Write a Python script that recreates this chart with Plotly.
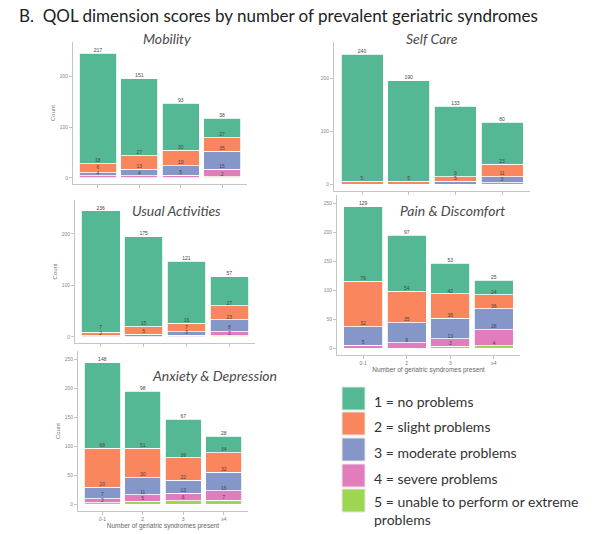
import plotly.graph_objects as go
import numpy as np

W, H = 615, 534

categories = ["0-1", "2", "3", "≥4"]
level_names = ["1 = no problems", "2 = slight problems", "3 = moderate problems",
               "4 = severe problems", "5 = unable to perform or extreme<br>problems"]
colors = ["#55B894", "#F9865C", "#8497C8", "#E27CBD", "#9DD651"]

# counts per level (1..5) for each category
mobility_1 = [217, 151, 93, 38]
mobility_2 = [18, 27, 30, 27]
mobility_3 = [6, 13, 19, 35]
mobility_4 = [4, 4, 5, 15]
mobility_5 = [0, 0, 0, 2]

selfcare_1 = [240, 190, 133, 80]
selfcare_2 = [5, 5, 9, 23]
selfcare_3 = [0, 0, 5, 11]
selfcare_4 = [0, 0, 0, 3]
selfcare_5 = [0, 0, 0, 0]

usual_1 = [236, 175, 121, 57]
usual_2 = [7, 15, 16, 27]
usual_3 = [2, 5, 7, 23]
usual_4 = [0, 0, 3, 8]
usual_5 = [0, 0, 0, 2]

pain_1 = [129, 97, 53, 25]
pain_2 = [79, 54, 42, 24]
pain_3 = [32, 35, 36, 36]
pain_4 = [5, 9, 13, 28]
pain_5 = [0, 0, 3, 4]

anxiety_1 = [148, 98, 67, 28]
anxiety_2 = [68, 51, 39, 34]
anxiety_3 = [20, 30, 22, 32]
anxiety_4 = [7, 11, 13, 16]
anxiety_5 = [2, 5, 6, 7]

panel_titles = ["Mobility", "Self Care", "Usual Activities", "Pain & Discomfort", "Anxiety & Depression"]
panel_data = [
    [mobility_1, mobility_2, mobility_3, mobility_4, mobility_5],
    [selfcare_1, selfcare_2, selfcare_3, selfcare_4, selfcare_5],
    [usual_1, usual_2, usual_3, usual_4, usual_5],
    [pain_1, pain_2, pain_3, pain_4, pain_5],
    [anxiety_1, anxiety_2, anxiety_3, anxiety_4, anxiety_5],
]

panels = [
    dict(x0=73, x1=247, yt=42, yb=184, yr=[-12, 267], yt_vals=[0, 100, 200], xl=False, cnt=True, tx=167, ty=39),
    dict(x0=334, x1=530, yt=42, yb=191, yr=[-13, 268], yt_vals=[0, 100, 200], xl=False, cnt=False, tx=432, ty=39),
    dict(x0=75, x1=255, yt=200, yb=343, yr=[-12, 266], yt_vals=[0, 100, 200], xl=False, cnt=True, tx=176, ty=210),
    dict(x0=337, x1=520, yt=195, yb=355, yr=[-12, 265], yt_vals=[0, 50, 100, 150, 200, 250], xl=True, cnt=False, tx=452, ty=210),
    dict(x0=78, x1=248, yt=351, yb=511, yr=[-12, 265], yt_vals=[0, 50, 100, 150, 200, 250], xl=True, cnt=True, tx=214, ty=375),
]

fig = go.Figure()
layout = {}
annotations = []
shapes = []

for i, (data, p, title) in enumerate(zip(panel_data, panels, panel_titles)):
    n = i + 1
    xa = "x" if n == 1 else f"x{n}"
    ya = "y" if n == 1 else f"y{n}"
    px_per_unit = (p["yb"] - p["yt"]) / (p["yr"][1] - p["yr"][0])
    sep = 5.5 / px_per_unit
    cum = np.zeros(len(categories))
    last_pos = np.full(len(categories), -1e9)
    for lvl in [4, 3, 2, 1, 0]:
        vals = np.array(data[lvl], dtype=float)
        fig.add_trace(go.Bar(x=categories, y=vals, xaxis=xa, yaxis=ya,
                             marker=dict(color=colors[lvl], line=dict(color="white", width=0.8)),
                             showlegend=False, hoverinfo="skip"))
        cum = cum + vals
        mask = vals > 0
        pos = np.maximum(cum + 2.5 / px_per_unit, last_pos + sep)
        last_pos = np.where(mask, pos, last_pos)
        fig.add_trace(go.Scatter(x=[c for c, m in zip(categories, mask) if m],
                                 y=pos[mask].tolist(),
                                 text=[str(int(v)) for v in vals[mask]],
                                 mode="text", textposition="middle center",
                                 textfont=dict(size=5, color="#444", family="Liberation Sans"),
                                 xaxis=xa, yaxis=ya, showlegend=False, hoverinfo="skip"))
    xkey = "xaxis" if n == 1 else f"xaxis{n}"
    ykey = "yaxis" if n == 1 else f"yaxis{n}"
    layout[xkey] = dict(domain=[p["x0"] / W, p["x1"] / W], anchor=ya, type="category",
                        range=[-0.6, 3.6], showline=True, linecolor="#c4c4c4", linewidth=1,
                        ticks="outside", ticklen=3, tickcolor="#c4c4c4", showgrid=False,
                        zeroline=False, showticklabels=p["xl"],
                        tickfont=dict(size=5, color="#777", family="Liberation Sans"),
                        title=dict(text="Number of geriatric syndromes present" if p["xl"] else "",
                                   font=dict(size=6.5, color="#666", family="Liberation Sans"),
                                   standoff=2))
    layout[ykey] = dict(domain=[1 - p["yb"] / H, 1 - p["yt"] / H], anchor=xa,
                        range=p["yr"], tickvals=p["yt_vals"], showline=True,
                        linecolor="#c4c4c4", linewidth=1, ticks="outside", ticklen=3,
                        tickcolor="#c4c4c4", showgrid=False, zeroline=False,
                        tickfont=dict(size=5, color="#888", family="Liberation Sans"),
                        title=dict(text="Count" if p["cnt"] else "",
                                   font=dict(size=6, color="#777", family="Liberation Sans"),
                                   standoff=3))
    annotations.append(dict(text=title, x=p["tx"] / W, y=1 - p["ty"] / H, xref="paper", yref="paper",
                            xanchor="center", yanchor="middle", showarrow=False,
                            font=dict(size=14, color="#4a4a4a", family="Lato", style="italic")))

annotations.append(dict(text="B.  QOL dimension scores by number of prevalent geriatric syndromes",
                        x=17 / W, y=1 - 16 / H, xref="paper", yref="paper", xanchor="left",
                        yanchor="middle", showarrow=False,
                        font=dict(size=17, color="#222", family="Lato")))

sw_top = [387, 412, 438, 464, 489]
for k, name in enumerate(level_names):
    y0 = sw_top[k]
    shapes.append(dict(type="rect", xref="paper", yref="paper",
                       x0=342 / W, x1=365 / W, y0=1 - (y0 + 23) / H, y1=1 - y0 / H,
                       fillcolor=colors[k], line=dict(color="#e6e6e6", width=1)))
    yc = y0 + 14 if k < 4 else y0 + 21
    annotations.append(dict(text=name, x=372 / W, y=1 - yc / H, xref="paper", yref="paper",
                            xanchor="left", yanchor="middle", align="left", showarrow=False,
                            font=dict(size=14, color="#333", family="Lato")))

fig.update_layout(width=W, height=H, margin=dict(l=0, r=0, t=0, b=0),
                  paper_bgcolor="white", plot_bgcolor="white", barmode="stack", bargap=0.1,
                  annotations=annotations, shapes=shapes, **layout)

fig.write_html("out.html")
